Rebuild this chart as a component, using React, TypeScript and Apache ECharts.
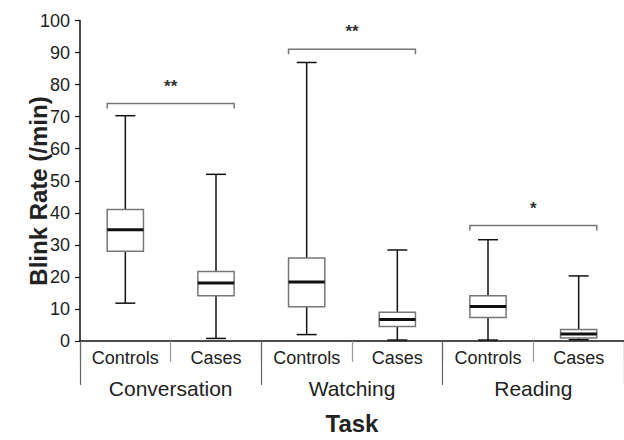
import React, { useEffect, useRef } from "react";
import * as echarts from "echarts";

const subCategories = ["Controls", "Cases", "Controls", "Cases", "Controls", "Cases"];
const tasks = ["Conversation", "Watching", "Reading"];
const whiskerLow = [11.8, 0.8, 2.0, 0.3, 0.3, 0.4];
const q1 = [28.0, 14.1, 10.7, 4.5, 7.3, 0.9];
const median = [34.7, 18.1, 18.4, 6.7, 10.8, 2.2];
const q3 = [41.0, 21.7, 25.9, 9.0, 14.1, 3.6];
const whiskerHigh = [70.3, 52.0, 86.9, 28.4, 31.6, 20.3];

const bracketStart = [0, 2, 4];
const bracketEnd = [1, 3, 5];
const bracketLevel = [74.1, 91.0, 36.0];
const bracketLabel = ["**", "**", "*"];

const FONT = "'Liberation Sans', Arial, sans-serif";
const TEXT = "#222";

export default function App() {
  const ref = useRef<HTMLDivElement>(null);
  useEffect(() => {
    if (!ref.current) return;
    const chart = echarts.init(ref.current, null, { renderer: "svg" });
    const boxData = subCategories.map((_, i) => [i, whiskerLow[i], q1[i], median[i], q3[i], whiskerHigh[i]]);
    const bracketData = bracketStart.map((s, i) => [s, bracketEnd[i], bracketLevel[i], i]);
    chart.setOption({
      animation: false,
      grid: { left: 80, top: 20.5, width: 550, bottom: 93 },
      xAxis: [
        {
          type: "category",
          data: subCategories,
          boundaryGap: true,
          position: "bottom",
          axisLine: { show: true, lineStyle: { color: "#111", width: 1.5 } },
          axisTick: { show: true, length: 21, alignWithLabel: false, lineStyle: { color: "#999", width: 1.2 } },
          axisLabel: { fontSize: 18, color: TEXT, fontFamily: FONT, margin: 8 },
          splitLine: { show: false },
        },
        {
          type: "category",
          data: tasks,
          boundaryGap: true,
          position: "bottom",
          axisLine: { show: false },
          axisTick: { show: true, length: 44, alignWithLabel: false, lineStyle: { color: "#666", width: 1.2 } },
          axisLabel: { fontSize: 21, color: TEXT, fontFamily: FONT, margin: 37 },
          splitLine: { show: false },
          name: "Task",
          nameLocation: "middle",
          nameGap: 70,
          nameTextStyle: { fontSize: 24, fontWeight: "bold", color: TEXT, fontFamily: FONT },
        },
      ],
      yAxis: {
        type: "value",
        min: 0,
        max: 100,
        interval: 10,
        axisLine: { show: true, lineStyle: { color: "#111", width: 1.5 } },
        axisTick: { show: true, length: 5, lineStyle: { color: "#111", width: 1.2 } },
        axisLabel: { fontSize: 18, color: TEXT, fontFamily: FONT, margin: 10 },
        splitLine: { show: false },
      },
      graphic: [
        {
          type: "text",
          x: 38,
          y: 191,
          rotation: Math.PI / 2,
          style: {
            text: "Blink Rate (/min)",
            fontSize: 24,
            fontWeight: "bold",
            fontFamily: FONT,
            fill: TEXT,
            align: "center",
            verticalAlign: "middle",
          },
        },
      ],
      series: [
        {
          type: "custom",
          xAxisIndex: 0,
          yAxisIndex: 0,
          data: boxData,
          encode: { x: 0, y: [1, 2, 3, 4, 5] },
          renderItem: (params: any, api: any) => {
            const i = api.value(0);
            const band = api.size([1, 0])[0];
            const hw = band * 0.2;
            const cw = band * 0.11;
            const pLow = api.coord([i, api.value(1)]);
            const pQ1 = api.coord([i, api.value(2)]);
            const pMed = api.coord([i, api.value(3)]);
            const pQ3 = api.coord([i, api.value(4)]);
            const pHigh = api.coord([i, api.value(5)]);
            const x = pMed[0];
            const wStyle = { stroke: "#111", lineWidth: 1.5 };
            return {
              type: "group",
              children: [
                { type: "line", shape: { x1: x, y1: pLow[1], x2: x, y2: pQ1[1] }, style: wStyle },
                { type: "line", shape: { x1: x - cw, y1: pLow[1], x2: x + cw, y2: pLow[1] }, style: wStyle },
                { type: "line", shape: { x1: x, y1: pQ3[1], x2: x, y2: pHigh[1] }, style: wStyle },
                { type: "line", shape: { x1: x - cw, y1: pHigh[1], x2: x + cw, y2: pHigh[1] }, style: wStyle },
                {
                  type: "rect",
                  shape: { x: x - hw, y: pQ3[1], width: hw * 2, height: pQ1[1] - pQ3[1] },
                  style: { fill: "#fff", stroke: "#777", lineWidth: 1.5 },
                },
                { type: "line", shape: { x1: x - hw, y1: pMed[1], x2: x + hw, y2: pMed[1] }, style: { stroke: "#111", lineWidth: 3 } },
              ],
            };
          },
          z: 5,
        },
        {
          type: "custom",
          xAxisIndex: 0,
          yAxisIndex: 0,
          data: bracketData,
          encode: { x: [0, 1], y: 2 },
          renderItem: (params: any, api: any) => {
            const band = api.size([1, 0])[0];
            const hw = band * 0.2;
            const p1 = api.coord([api.value(0), api.value(2)]);
            const p2 = api.coord([api.value(1), api.value(2)]);
            const x1 = p1[0] - hw;
            const x2 = p2[0] + hw;
            const y = p1[1];
            const label = bracketLabel[api.value(3)];
            return {
              type: "group",
              children: [
                {
                  type: "polyline",
                  shape: { points: [[x1, y + 5], [x1, y], [x2, y], [x2, y + 5]] },
                  style: { stroke: "#777", lineWidth: 1.5, fill: "none" },
                },
                {
                  type: "text",
                  x: (x1 + x2) / 2,
                  y: y - 26,
                  style: {
                    text: label,
                    fontSize: 17,
                    fontWeight: "bold",
                    fontFamily: FONT,
                    fill: "#333",
                    align: "center",
                    verticalAlign: "top",
                  },
                },
              ],
            };
          },
          z: 4,
        },
      ],
    });
    return () => chart.dispose();
  }, []);
  return (
    <div style={{ position: "fixed", left: 0, top: 0, width: 624, height: 440, background: "#fff" }}>
      <div ref={ref} style={{ width: 624, height: 440 }} />
    </div>
  );
}
